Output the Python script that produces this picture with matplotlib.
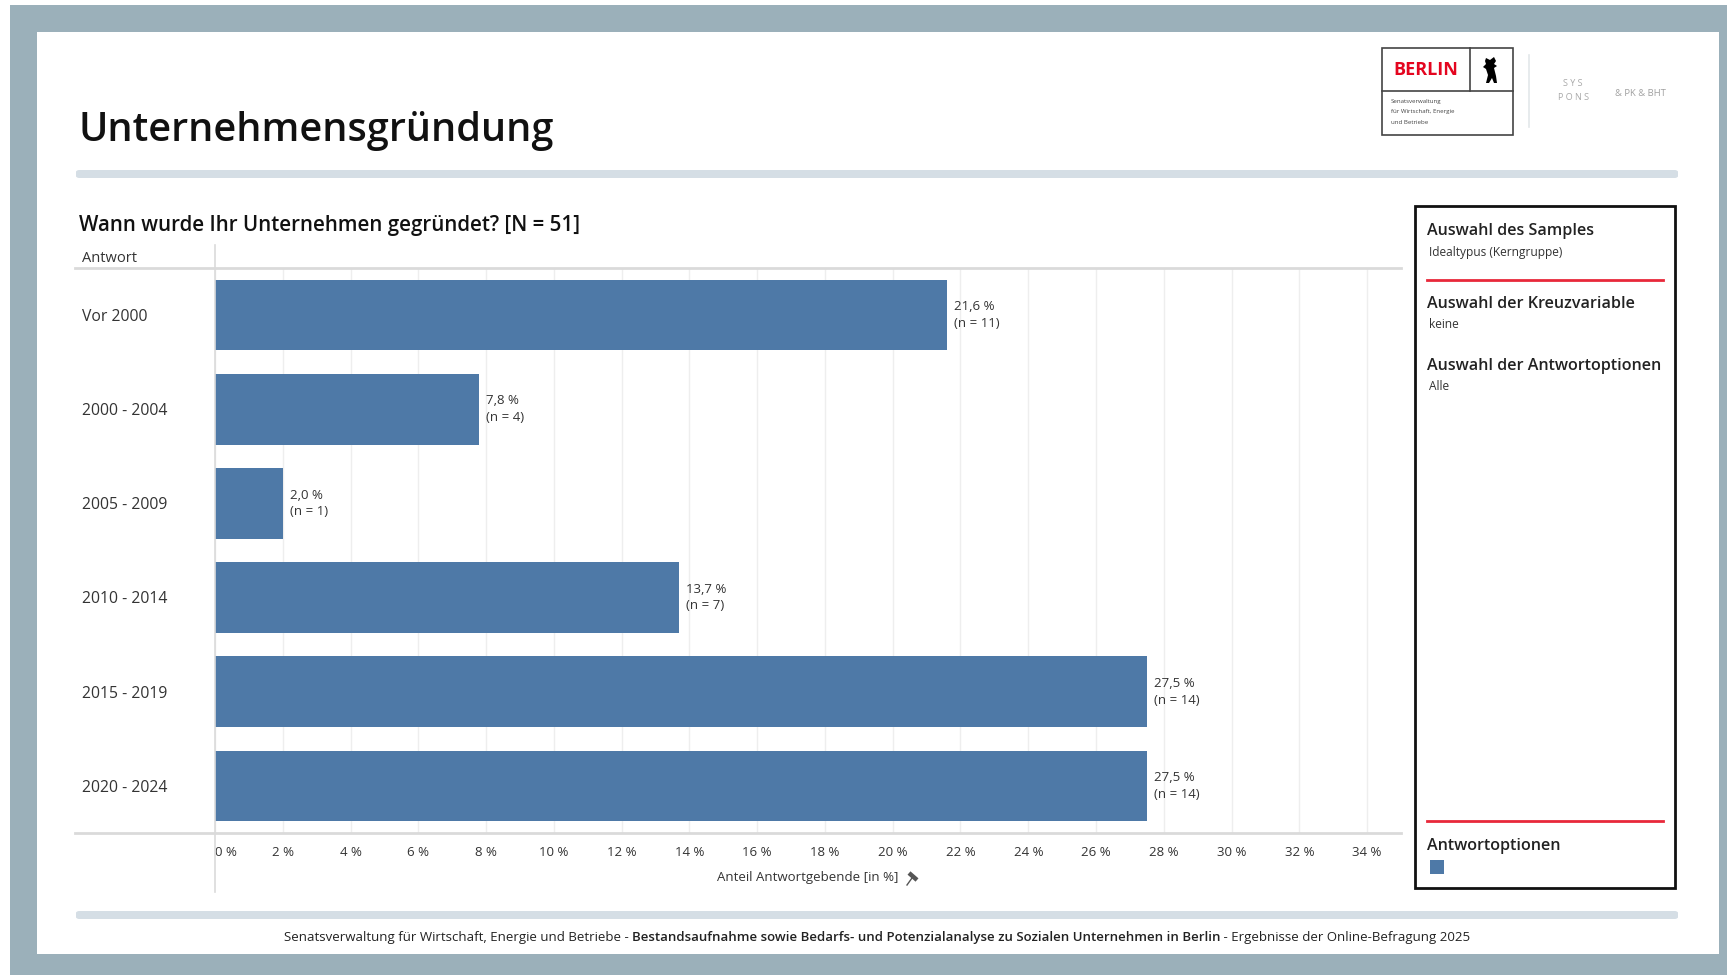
import matplotlib
matplotlib.use("Agg")
import matplotlib.pyplot as plt
from matplotlib.patches import Rectangle, FancyBboxPatch, Polygon
from matplotlib.lines import Line2D
from matplotlib.transforms import blended_transform_factory

plt.rcParams['font.family'] = ['Open Sans', 'DejaVu Sans']

W, H = 1727, 975

categories = ["Vor 2000", "2000 - 2004", "2005 - 2009", "2010 - 2014", "2015 - 2019", "2020 - 2024"]
shares = [21.6, 7.8, 2.0, 13.7, 27.5, 27.5]
counts = [11, 4, 1, 7, 14, 14]
x_ticks = list(range(0, 35, 2))

bar_color = "#4E79A7"
text_color = "#333333"
frame_color = "#9BB0BA"
sep_color = "#D5DEE5"
red = "#E8283A"


def fx(x):
    return x / W


def fy(y):
    return 1 - y / H


def fig_line(xs, ys, **kw):
    fig.lines.append(Line2D([fx(x) for x in xs], [fy(y) for y in ys],
                            transform=fig.transFigure, **kw))


fig = plt.figure(figsize=(W / 100, H / 100), dpi=100)
fig.patch.set_facecolor("white")

# outer frame
fig.patches.append(Rectangle((fx(10), fy(975)), fx(1717), 970 / H, transform=fig.transFigure,
                             facecolor=frame_color, edgecolor="none", zorder=-3))
fig.patches.append(Rectangle((fx(37), fy(954)), fx(1682), 922 / H, transform=fig.transFigure,
                             facecolor="white", edgecolor="none", zorder=-2))

# header
fig.text(fx(79), fy(131), "Unternehmensgründung", fontsize=28.5, weight="semibold",
         color="#111111", va="center", ha="left")


def sep_bar(y):
    fig.patches.append(FancyBboxPatch((fx(76), fy(y + 4)), fx(1602), 8 / H,
                                      boxstyle="round,pad=0,rounding_size=0.002",
                                      transform=fig.transFigure, facecolor=sep_color,
                                      edgecolor="none", zorder=1))


sep_bar(174)
sep_bar(915)

# logo block
lw_logo = 1.2
fig.patches.append(Rectangle((fx(1382), fy(135)), fx(131), 87 / H, transform=fig.transFigure,
                             facecolor="white", edgecolor="#444444", lw=lw_logo, zorder=2))
fig_line([1382, 1513], [91, 91], color="#444444", lw=lw_logo, zorder=3)
fig_line([1470, 1470], [48, 91], color="#444444", lw=lw_logo, zorder=3)
fig.text(fx(1426), fy(70), "BERLIN", fontsize=13, weight="bold", color="#E4051F",
         ha="center", va="center", zorder=4)
bear = [(1486, 58), (1490, 60), (1494, 57), (1496, 61), (1494, 64), (1497, 66), (1494, 68),
        (1496, 76), (1497, 83), (1494, 83), (1492, 78), (1489, 83), (1486, 83), (1488, 75),
        (1486, 69), (1483, 67), (1486, 64), (1485, 61)]
fig.patches.append(Polygon([(fx(a), fy(b)) for a, b in bear], closed=True, transform=fig.transFigure,
                           facecolor="black", edgecolor="none", zorder=4))
for y, t in [(102, "Senatsverwaltung"), (112, "für Wirtschaft, Energie"), (122, "und Betriebe")]:
    fig.text(fx(1391), fy(y), t, fontsize=4.4, color="#444444", ha="left", va="center", zorder=4)
fig_line([1529, 1529], [55, 127], color="#E3E7EA", lw=1.2)
fig.text(fx(1573), fy(84), "S Y S", fontsize=6.5, color="#A8A8A8", ha="center", va="center")
fig.text(fx(1573), fy(97), "P O N S", fontsize=6.5, color="#A8A8A8", ha="center", va="center")
fig.text(fx(1640), fy(94), "& PK & BHT", fontsize=6.8, color="#A0A0A0", ha="center", va="center")

# subtitle and column header
fig.text(fx(79), fy(226), "Wann wurde Ihr Unternehmen gegründet? [N = 51]", fontsize=14.8,
         weight="semibold", color="#111111", ha="left", va="center")
fig.text(fx(82), fy(258), "Antwort", fontsize=10.5, color=text_color, ha="left", va="center")

# bar chart
ax_l, ax_r, ax_t, ax_b = 215, 1401, 268, 833
ax = fig.add_axes([fx(ax_l), fy(ax_b), (ax_r - ax_l) / W, (ax_b - ax_t) / H])
ax.patch.set_alpha(0)
ypos = list(range(len(categories)))
ax.barh(ypos, shares, height=0.75, color=bar_color, zorder=3)
ax.set_xlim(0, 35.0)
ax.set_ylim(len(categories) - 0.5, -0.5)
ax.set_xticks(x_ticks)
ax.set_xticklabels([f"{t} %" for t in x_ticks], fontsize=9.5, color=text_color)
ax.get_xticklabels()[0].set_horizontalalignment("left")
ax.tick_params(axis="x", length=0, pad=9)
ax.set_yticks([])
ax.grid(axis="x", color="#EEEEEE", lw=1, zorder=0)
for s in ax.spines.values():
    s.set_visible(False)

label_tr = blended_transform_factory(fig.transFigure, ax.transData)
for i, (cat, v, n) in enumerate(zip(categories, shares, counts)):
    ax.text(fx(82), i + 0.02, cat, transform=label_tr, fontsize=11.3, color=text_color,
            ha="left", va="center")
    ax.text(v + 0.2, i, f"{v:.1f} %".replace(".", ",") + f"\n(n = {n})", fontsize=9.5,
            color=text_color, ha="left", va="center", linespacing=1.35, zorder=4)

# table rules around the chart
for y in (ax_t, ax_b):
    fig_line([75, ax_r], [y, y], color="#DADADA", lw=2, zorder=5)
fig_line([ax_l, ax_l], [245, 892], color="#DADADA", lw=1.2, zorder=5)
fig.text(fx((ax_l + ax_r) / 2), fy(877), "Anteil Antwortgebende [in %]", fontsize=9.5,
         color=text_color, ha="center", va="center")
# pin icon after the axis title
fig_line([909, 917], [873, 880], color="#555555", lw=3.2, solid_capstyle="butt")
fig_line([912, 907], [878, 885], color="#555555", lw=1.0)

# filter panel on the right
fig.patches.append(Rectangle((fx(1415), fy(888)), fx(260), 682 / H, transform=fig.transFigure,
                             facecolor="none", edgecolor="#111111", lw=2, zorder=5))
panel = [
    (231, "Auswahl des Samples", True),
    (252, "Idealtypus (Kerngruppe)", False),
    (304, "Auswahl der Kreuzvariable", True),
    (325, "keine", False),
    (366, "Auswahl der Antwortoptionen", True),
    (387, "Alle", False),
    (846, "Antwortoptionen", True),
]
for y, t, bold in panel:
    if bold:
        fig.text(fx(1427), fy(y), t, fontsize=11.6, weight="semibold", color="#222222",
                 ha="left", va="center")
    else:
        fig.text(fx(1429), fy(y), t, fontsize=8.6, color=text_color, ha="left", va="center")
for y in (280, 821):
    fig_line([1427, 1663], [y, y], color=red, lw=2)
fig.patches.append(Rectangle((fx(1430), fy(874)), fx(14), 14 / H, transform=fig.transFigure,
                             facecolor=bar_color, edgecolor="none"))

# footer
fig.canvas.draw()
renderer = fig.canvas.get_renderer()
parts = [
    ("Senatsverwaltung für Wirtschaft, Energie und Betriebe - ", "normal"),
    ("Bestandsaufnahme sowie Bedarfs- und Potenzialanalyse zu Sozialen Unternehmen in Berlin", "semibold"),
    (" - Ergebnisse der Online-Befragung 2025", "normal"),
]
footer_size = 9.5
widths = []
for t, w in parts:
    tmp = fig.text(0, 0, t, fontsize=footer_size, weight=w)
    widths.append(tmp.get_window_extent(renderer).width)
    tmp.remove()
x0 = 877 - sum(widths) / 2
for (t, w), wd in zip(parts, widths):
    fig.text(fx(x0), fy(937), t, fontsize=footer_size, weight=w, color="#222222",
             ha="left", va="center")
    x0 += wd

fig.savefig("out.png", dpi=100)
